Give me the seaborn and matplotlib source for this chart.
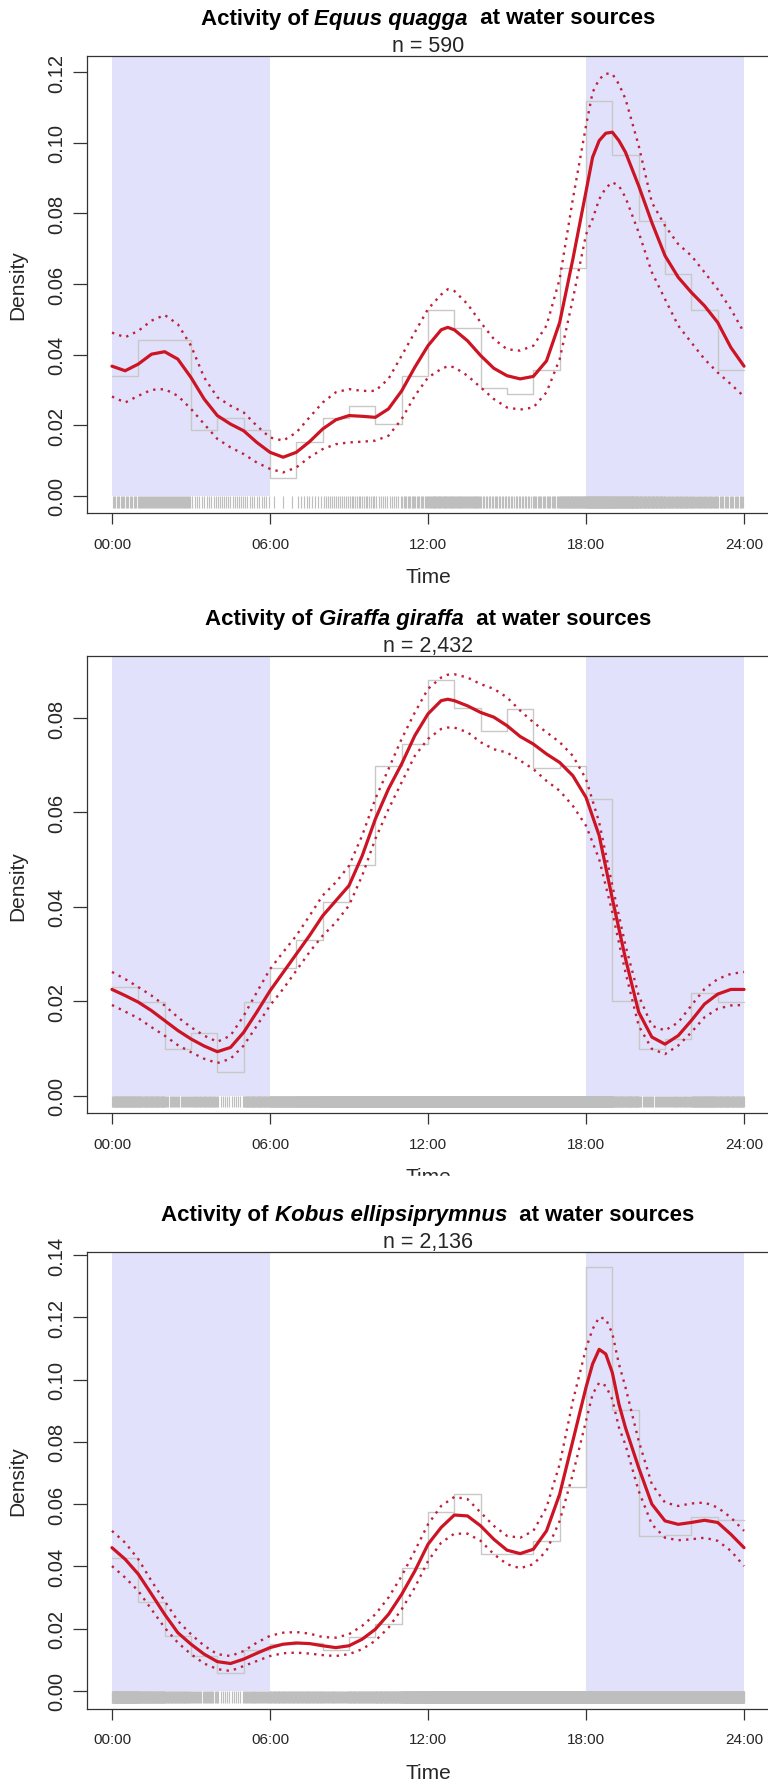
import numpy as np
import pandas as pd
import matplotlib
matplotlib.use("Agg")
import matplotlib.pyplot as plt
import seaborn as sns
from matplotlib.patches import Rectangle

sns.set_theme(style="ticks")
plt.rcParams['font.family'] = ['Liberation Sans', 'DejaVu Sans']

# time grid of the fitted curves (every half hour) and the hourly bins
hours = list(np.arange(0, 24.5, 0.5))
bin_hours = np.arange(24)
time_ticks = [0, 6, 12, 18, 24]
time_labels = ["00:00", "06:00", "12:00", "18:00", "24:00"]

# Equus quagga
eq_name = "Equus quagga"
eq_n = 590
eq_counts = [20, 26, 26, 11, 13, 11, 3, 9, 13, 15, 12, 20,
             31, 28, 18, 17, 21, 38, 66, 57, 46, 37, 31, 21]
eq_fit = [.0367, .0354, .0373, .0401, .0408, .0387, .0335, .0274, .0227, .0203, .0184, .0151,
          .0123, .0109, .0123, .0153, .0189, .0215, .0227, .0225, .0222, .0246, .0297, .0364,
          .0425, .0470, .0470, .0439, .0397, .0361, .0340, .0331, .0338, .0382, .0491, .0670,
          .0862, .1006, .1030, .0973, .0878, .0774, .0680, .0619, .0576, .0538, .0491, .0420, .0367]
eq_upper = [.0462, .0449, .0467, .0496, .0512, .0486, .0425, .0335, .0279, .0255, .0236, .0198,
            .0165, .0156, .0179, .0222, .0264, .0293, .0302, .0297, .0297, .0331, .0397, .0463,
            .0529, .0570, .0580, .0543, .0491, .0444, .0415, .0411, .0425, .0482, .0614, .0840,
            .1048, .1180, .1195, .1124, .0992, .0831, .0765, .0713, .0680, .0633, .0585, .0529, .0462]
eq_lower = [.0281, .0264, .0283, .0300, .0302, .0283, .0246, .0203, .0161, .0137, .0118, .0094,
            .0076, .0066, .0080, .0109, .0132, .0146, .0151, .0153, .0156, .0170, .0217, .0283,
            .0335, .0359, .0364, .0340, .0307, .0274, .0250, .0244, .0250, .0293, .0387, .0557,
            .0740, .0840, .0888, .0845, .0746, .0633, .0557, .0482, .0434, .0387, .0349, .0316, .0281]
# extra readings around the peaks
eq_peak_hours = [12.75, 18.25, 18.75, 19.25]
eq_peak_fit = [.0477, .0959, .1027, .1006]
eq_peak_upper = [.0585, .1143, .1196, .1166]
eq_peak_lower = [.0367, .0784, .0872, .0878]

# Giraffa giraffa
gg_name = "Giraffa giraffa"
gg_n = 2432
gg_counts = [56, 48, 24, 32, 12, 48, 66, 80, 100, 119, 170, 181,
             214, 200, 188, 199, 169, 170, 153, 49, 24, 29, 53, 48]
gg_fit = [.0225, .0212, .0198, .0180, .0159, .0138, .0120, .0105, .0093, .0102, .0134, .0177,
          .0222, .0261, .0300, .0339, .0381, .0413, .0445, .0508, .0586, .0650, .0703, .0763,
          .0809, .0837, .0837, .0826, .0812, .0802, .0784, .0761, .0745, .0724, .0706, .0678,
          .0632, .0551, .0417, .0290, .0177, .0124, .0109, .0127, .0159, .0194, .0215, .0225, .0225]
gg_upper = [.0262, .0247, .0230, .0212, .0191, .0166, .0145, .0127, .0114, .0127, .0169, .0219,
            .0268, .0304, .0339, .0381, .0424, .0452, .0487, .0551, .0629, .0692, .0756, .0812,
            .0862, .0886, .0893, .0886, .0872, .0862, .0844, .0816, .0791, .0770, .0749, .0720,
            .0671, .0579, .0445, .0318, .0212, .0148, .0138, .0155, .0191, .0226, .0247, .0258, .0262]
gg_lower = [.0192, .0178, .0164, .0145, .0127, .0107, .0092, .0078, .0069, .0078, .0106, .0148,
            .0191, .0226, .0265, .0304, .0339, .0367, .0403, .0466, .0544, .0607, .0664, .0720,
            .0756, .0777, .0780, .0770, .0749, .0734, .0727, .0710, .0692, .0667, .0646, .0614,
            .0572, .0501, .0388, .0261, .0148, .0099, .0088, .0106, .0134, .0166, .0184, .0191, .0192]
gg_peak_hours = [12.75]
gg_peak_fit = [.0840]
gg_peak_upper = [.0892]
gg_peak_lower = [.0780]

# Kobus ellipsiprymnus
ke_name = "Kobus ellipsiprymnus"
ke_n = 2136
ke_counts = [91, 61, 38, 24, 12, 28, 32, 33, 28, 37, 46, 84,
             123, 135, 94, 94, 103, 140, 291, 193, 106, 107, 119, 117]
ke_fit = [.0460, .0423, .0375, .0311, .0246, .0187, .0150, .0118, .0094, .0088, .0102, .0121,
          .0139, .0150, .0154, .0152, .0145, .0139, .0145, .0166, .0198, .0246, .0310, .0385,
          .0471, .0525, .0565, .0562, .0530, .0487, .0452, .0441, .0455, .0514, .0632, .0803,
          .0975, .1097, .1022, .0845, .0717, .0600, .0546, .0535, .0541, .0548, .0541, .0503, .0460]
ke_upper = [.0514, .0476, .0423, .0353, .0289, .0225, .0182, .0145, .0118, .0112, .0128, .0155,
            .0177, .0187, .0189, .0184, .0173, .0171, .0182, .0209, .0246, .0300, .0369, .0450,
            .0535, .0594, .0623, .0616, .0573, .0530, .0498, .0492, .0514, .0589, .0728, .0931,
            .1100, .1200, .1148, .0975, .0803, .0664, .0605, .0594, .0602, .0605, .0589, .0557, .0514]
ke_lower = [.0401, .0364, .0321, .0262, .0203, .0155, .0118, .0088, .0070, .0064, .0080, .0096,
            .0112, .0121, .0123, .0120, .0115, .0112, .0118, .0134, .0161, .0203, .0262, .0332,
            .0417, .0476, .0505, .0505, .0482, .0439, .0407, .0394, .0407, .0450, .0546, .0696,
            .0867, .0990, .0936, .0790, .0642, .0535, .0492, .0484, .0487, .0492, .0482, .0450, .0401]
ke_peak_hours = [18.25, 18.75, 19.25]
ke_peak_fit = [.1050, .1082, .0921]
ke_peak_upper = [.1162, .1195, .1050]
ke_peak_lower = [.0953, .0980, .0846]

night_col = "#E1E1FB"
red = "#CC1424"
red_dot = "#C0203A"
hist_col = "#C8C8C8"
rug_col = "#BEBEBE"

W, H = 768, 1783
fig = plt.figure(figsize=(W / 100, H / 100), dpi=100)
renderer = fig.canvas.get_renderer()

x_left, x_right = 86.7, 769.3
panels = [
    dict(name=eq_name, n=eq_n, counts=eq_counts, fit=eq_fit, upper=eq_upper, lower=eq_lower,
         px=eq_peak_hours, pfit=eq_peak_fit, pup=eq_peak_upper, plo=eq_peak_lower,
         top=56.6, bottom=514.0, ylim=(-0.0049, 0.1247), ymax_tick=0.12),
    dict(name=gg_name, n=gg_n, counts=gg_counts, fit=gg_fit, upper=gg_upper, lower=gg_lower,
         px=gg_peak_hours, pfit=gg_peak_fit, pup=gg_peak_upper, plo=gg_peak_lower,
         top=657.3, bottom=1113.9, ylim=(-0.00367, 0.0931), ymax_tick=0.08),
    dict(name=ke_name, n=ke_n, counts=ke_counts, fit=ke_fit, upper=ke_upper, lower=ke_lower,
         px=ke_peak_hours, pfit=ke_peak_fit, pup=ke_peak_upper, plo=ke_peak_lower,
         top=1252.9, bottom=1709.5, ylim=(-0.00565, 0.141), ymax_tick=0.14),
]


def title_line(cx, cy, genus):
    parts = [("Activity of ", "normal"), (genus, "italic"), ("  at water sources", "normal")]
    texts = [fig.text(0, 1 - cy / H, s, fontsize=16, fontweight="bold", fontstyle=st,
                      va="center", ha="left", color="black") for s, st in parts]
    widths = [t.get_window_extent(renderer).width for t in texts]
    x = cx - sum(widths) / 2
    for t, w in zip(texts, widths):
        t.set_x(x / W)
        x += w


for p in panels:
    top, bottom, ylim = p["top"], p["bottom"], p["ylim"]
    ax = fig.add_axes([x_left / W, 1 - bottom / H, (x_right - x_left) / W, (bottom - top) / H])
    y0 = -ylim[0] / (ylim[1] - ylim[0])
    ax.axvspan(0, 6, ymin=y0, ymax=1, color=night_col, lw=0, zorder=0)
    ax.axvspan(18, 24, ymin=y0, ymax=1, color=night_col, lw=0, zorder=0)

    counts = np.array(p["counts"])
    hist_df = pd.DataFrame({"hour": bin_hours + 0.5, "density": counts / p["n"]})
    sns.histplot(data=hist_df, x="hour", weights="density", bins=24, binrange=(0, 24),
                 element="step", fill=False, color=hist_col, linewidth=1.0, ax=ax)

    # rug: observations spread through their hourly bin
    rug = np.concatenate([h + (np.arange(c) + 0.5) / c for h, c in zip(bin_hours, counts)])
    rug_len = 0.026 * (ylim[1] - ylim[0])
    ax.vlines(rug, -rug_len, 0, color=rug_col, linewidth=0.85, zorder=1)

    curve = pd.DataFrame({"hour": hours + p["px"],
                          "fit": p["fit"] + p["pfit"],
                          "upper": p["upper"] + p["pup"],
                          "lower": p["lower"] + p["plo"]}).sort_values("hour")
    sns.lineplot(data=curve, x="hour", y="upper", color=red_dot, linewidth=1.7,
                 linestyle=(0, (1, 2.2)), ax=ax)
    sns.lineplot(data=curve, x="hour", y="lower", color=red_dot, linewidth=1.7,
                 linestyle=(0, (1, 2.2)), ax=ax)
    sns.lineplot(data=curve, x="hour", y="fit", color=red, linewidth=2.3, ax=ax)

    yticks = np.arange(0, p["ymax_tick"] + 0.001, 0.02)
    ax.set_xlim(-0.96, 24.96)
    ax.set_ylim(*ylim)
    ax.set_xticks(time_ticks, labels=time_labels)
    ax.set_yticks(yticks, labels=[f"{v:.2f}" for v in yticks], rotation=90, va="center")
    ax.tick_params(axis="x", length=8, width=0.9, pad=9, labelsize=11, color="#333333")
    ax.tick_params(axis="y", length=10, width=0.9, pad=5, labelsize=14.5, color="#333333")
    for sp in ax.spines.values():
        sp.set_linewidth(0.9)
        sp.set_color("#333333")
    ax.set_xlabel("Time", fontsize=15, labelpad=12)
    ax.set_ylabel("Density", fontsize=15, labelpad=14)

    cx = (x_left + x_right) / 2
    title_line(cx, top - 37.6, p["name"])
    fig.text(cx / W, 1 - (top - 10.6) / H, f"n = {p['n']:,}", fontsize=15.5, ha="center", va="center")

# the lower edge of the middle panel is cut off in the source image
fig.add_artist(Rectangle((0, 1 - 1200 / H), 1, (1200 - 1177) / H, transform=fig.transFigure,
                         color="white", zorder=10))

fig.savefig("out.png", dpi=100)
